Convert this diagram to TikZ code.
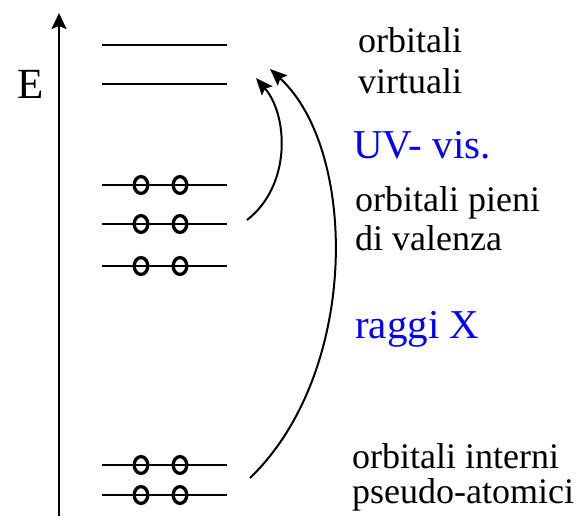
\documentclass[tikz,border=0pt]{standalone}
\usepackage{fontspec}
\setmainfont{Liberation Serif}
\usetikzlibrary{arrows.meta}

\begin{document}
\begin{tikzpicture}[x=1pt,y=-1pt,
    level/.style={line width=2.2pt},
    electron/.style={line width=3.3pt},
    lbl/.style={anchor=base west,inner sep=0pt,font=\fontsize{36}{40}\selectfont},
    band/.style={anchor=base west,inner sep=0pt,text=blue,font=\fontsize{41}{46}\selectfont},
    jump/.style={line width=2pt,-{Stealth[length=17pt,width=14pt,inset=3pt]}}]
  \useasboundingbox (0,0) rectangle (577,516);
  % energy axis
  \coordinate (axb) at (59,516);
  \coordinate (axt) at (59,13);
  \draw[line width=2pt,-{Stealth[length=16pt,width=15pt,inset=3pt]}] (axb) -- (axt);
  \node[anchor=base,inner sep=0pt,font=\fontsize{43}{48}\selectfont] (E) at (31,99) {E};
  % levels
  \foreach \y in {45,84} \draw[level] (102,\y) -- (227,\y);
  \foreach \y in {185,224,266,465,495} {
    \draw[level] (102,\y) -- (227,\y);
    \foreach \x in {141,180} \draw[electron] (\x,\y) ellipse [x radius=6.8pt,y radius=8.4pt];
  }
  % labels
  \node[lbl] (virt1) at (358,53) {orbitali};
  \node[lbl] (virt2) at (358,93) {virtuali};
  \node[band] (uv) at (353,158) {UV- vis.};
  \node[lbl] (val1) at (355,211) {orbitali pieni};
  \node[lbl] (val2) at (355,250) {di valenza};
  \node[band] (rx) at (355,338) {raggi X};
  \node[lbl] (core1) at (352,468) {orbitali interni};
  \node[lbl] (core2) at (352,503) {pseudo-atomici};
  % transitions
  \coordinate (uvs) at (247,220);
  \coordinate (uve) at (256,78);
  \coordinate (rxs) at (250,478);
  \coordinate (rxe) at (270,69);
  \draw[jump] (uvs) .. controls (292,185) and (288,115) .. (uve);
  \draw[jump] (rxs) .. controls (360,372) and (358,150) .. (rxe);
\end{tikzpicture}
\end{document}
